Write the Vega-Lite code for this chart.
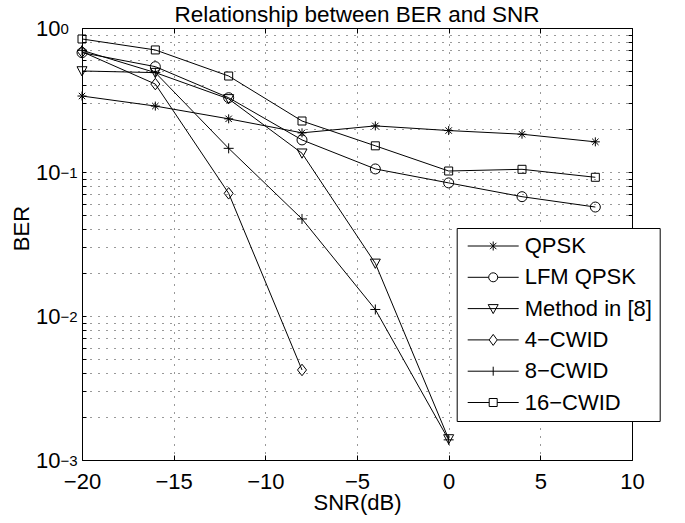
{
  "$schema": "https://vega.github.io/schema/vega-lite/v6.json",
  "autosize": {"type": "none"},
  "padding": {"left": 82, "top": 28, "right": 53, "bottom": 63},
  "width": 550,
  "height": 432,
  "background": "white",
  "config": {
    "font": "Liberation Sans",
    "view": {"stroke": null},
    "axis": {"domainColor": "black", "tickColor": "black", "labelColor": "black", "titleColor": "black", "titleFontWeight": "normal", "domainWidth": 1, "tickWidth": 1}
  },
  "title": {"text": "Relationship between BER and SNR", "fontSize": 22.5, "fontWeight": "normal", "color": "black", "offset": -9, "anchor": "middle"},
  "data": {"values": [
    {"series": "QPSK", "snr": -20, "ber": 0.337},
    {"series": "QPSK", "snr": -16, "ber": 0.287},
    {"series": "QPSK", "snr": -12, "ber": 0.234},
    {"series": "QPSK", "snr": -8, "ber": 0.187},
    {"series": "QPSK", "snr": -4, "ber": 0.209},
    {"series": "QPSK", "snr": 0, "ber": 0.194},
    {"series": "QPSK", "snr": 4, "ber": 0.183},
    {"series": "QPSK", "snr": 8, "ber": 0.162},
    {"series": "LFM QPSK", "snr": -20, "ber": 0.674},
    {"series": "LFM QPSK", "snr": -16, "ber": 0.539},
    {"series": "LFM QPSK", "snr": -12, "ber": 0.328},
    {"series": "LFM QPSK", "snr": -8, "ber": 0.167},
    {"series": "LFM QPSK", "snr": -4, "ber": 0.105},
    {"series": "LFM QPSK", "snr": 0, "ber": 0.084},
    {"series": "LFM QPSK", "snr": 4, "ber": 0.0674},
    {"series": "LFM QPSK", "snr": 8, "ber": 0.0571},
    {"series": "Method in [8]", "snr": -20, "ber": 0.503},
    {"series": "Method in [8]", "snr": -16, "ber": 0.49},
    {"series": "Method in [8]", "snr": -12, "ber": 0.322},
    {"series": "Method in [8]", "snr": -8, "ber": 0.135},
    {"series": "Method in [8]", "snr": -4, "ber": 0.0232},
    {"series": "Method in [8]", "snr": 0, "ber": 0.0014},
    {"series": "4−CWID", "snr": -20, "ber": 0.685},
    {"series": "4−CWID", "snr": -16, "ber": 0.408},
    {"series": "4−CWID", "snr": -12, "ber": 0.0711},
    {"series": "4−CWID", "snr": -8, "ber": 0.00422},
    {"series": "8−CWID", "snr": -20, "ber": 0.70},
    {"series": "8−CWID", "snr": -16, "ber": 0.49},
    {"series": "8−CWID", "snr": -12, "ber": 0.146},
    {"series": "8−CWID", "snr": -8, "ber": 0.0472},
    {"series": "8−CWID", "snr": -4, "ber": 0.0111},
    {"series": "8−CWID", "snr": 0, "ber": 0.00138},
    {"series": "16−CWID", "snr": -20, "ber": 0.839},
    {"series": "16−CWID", "snr": -16, "ber": 0.704},
    {"series": "16−CWID", "snr": -12, "ber": 0.464},
    {"series": "16−CWID", "snr": -8, "ber": 0.226},
    {"series": "16−CWID", "snr": -4, "ber": 0.152},
    {"series": "16−CWID", "snr": 0, "ber": 0.1016},
    {"series": "16−CWID", "snr": 4, "ber": 0.1044},
    {"series": "16−CWID", "snr": 8, "ber": 0.0919}
  ]},
  "resolve": {"axis": {"x": "independent", "y": "independent"}, "scale": {"shape": "independent"}, "legend": {"shape": "independent"}},
  "layer": [
    {
      "mark": {"type": "line", "color": "black", "strokeWidth": 1},
      "encoding": {
        "x": {"field": "snr", "type": "quantitative", "scale": {"domain": [-20, 10], "nice": false, "zero": false},
          "axis": {"orient": "bottom", "title": "SNR(dB)", "titleFontSize": 22, "titlePadding": 0, "values": [-20, -15, -10, -5, 0, 5, 10], "labelFontSize": 22, "labelPadding": 16, "tickSize": -5, "grid": true, "gridDash": [1, 7], "gridColor": "#333", "gridWidth": 1, "labelFlush": false}},
        "y": {"field": "ber", "type": "quantitative", "scale": {"type": "log", "domain": [0.001, 1], "nice": false},
          "axis": {"orient": "left", "title": "BER", "titleFontSize": 22, "titlePadding": 2, "titleY": 200,
            "values": [0.001, 0.002, 0.003, 0.004, 0.005, 0.006, 0.007, 0.008, 0.009, 0.01, 0.02, 0.03, 0.04, 0.05, 0.06, 0.07, 0.08, 0.09, 0.1, 0.2, 0.3, 0.4, 0.5, 0.6, 0.7, 0.8, 0.9, 1],
            "labelExpr": "abs(log(datum.value)/LN10 - round(log(datum.value)/LN10)) < 0.000001 ? '10' : ''",
            "labelFontSize": 22, "labelPadding": 26, "labelDy": 3, "tickSize": -4, "grid": true, "gridDash": [1, 7], "gridColor": "#333", "gridWidth": 1, "labelFlush": false, "labelOverlap": false}},
        "detail": {"field": "series", "type": "nominal"}
      }
    },
    {
      "mark": {"type": "point", "filled": false, "color": "black", "strokeWidth": 1, "size": 100, "opacity": 1},
      "encoding": {
        "x": {"field": "snr", "type": "quantitative", "axis": {"orient": "top", "title": null, "values": [-20, -15, -10, -5, 0, 5, 10], "labels": false, "tickSize": -5, "grid": false}},
        "y": {"field": "ber", "type": "quantitative", "axis": {"orient": "right", "title": null,
            "values": [0.001, 0.002, 0.003, 0.004, 0.005, 0.006, 0.007, 0.008, 0.009, 0.01, 0.02, 0.03, 0.04, 0.05, 0.06, 0.07, 0.08, 0.09, 0.1, 0.2, 0.3, 0.4, 0.5, 0.6, 0.7, 0.8, 0.9, 1],
            "labels": false, "tickSize": -4, "grid": false}},
        "shape": {"field": "series", "type": "nominal", "legend": null,
          "scale": {"domain": ["QPSK", "LFM QPSK", "Method in [8]", "4−CWID", "8−CWID", "16−CWID"],
            "range": [
              "M-0.9,0H0.9M0,-0.9V0.9M-0.64,-0.64L0.64,0.64M-0.64,0.64L0.64,-0.64",
              "M-1,0A1,1 0 1 1 1,0A1,1 0 1 1 -1,0Z",
              "M-1,-0.85L1,-0.85L0,1Z",
              "M0,-1.15L0.9,0L0,1.15L-0.9,0Z",
              "M-1,0H1M0,-1V1",
              "M-0.8,-0.8H0.8V0.8H-0.8Z"
            ]}}
      }
    },
    {
      "mark": {"type": "point", "opacity": 0, "filled": false, "color": "black", "strokeWidth": 1},
      "encoding": {
        "x": {"field": "snr", "type": "quantitative", "axis": null},
        "y": {"field": "ber", "type": "quantitative", "axis": {"orient": "left", "title": null, "values": [0.001, 0.01, 0.1, 1],
          "labelExpr": "datum.value < 0.005 ? '−3' : datum.value < 0.05 ? '−2' : datum.value < 0.5 ? '−1' : '0'",
          "labelFontSize": 15, "labelAlign": "left", "labelPadding": 22, "labelDy": -10, "ticks": false, "domain": false, "grid": false, "labelFlush": false}},
        "shape": {"field": "series", "type": "nominal",
          "scale": {"domain": ["QPSK", "LFM QPSK", "Method in [8]", "4−CWID", "8−CWID", "16−CWID"],
            "range": [
              "M-0.7,0H4.4M1.85,-0.45V0.45M1.53,-0.32L2.17,0.32M1.53,0.32L2.17,-0.32",
              "M-0.7,0H1.4M2.3,0H4.4M1.4,0A0.45,0.45 0 1 1 2.3,0A0.45,0.45 0 1 1 1.4,0Z",
              "M-0.7,0H4.4M1.35,-0.4L2.35,-0.4L1.85,0.5Z",
              "M-0.7,0H1.45M2.25,0H4.4M1.85,-0.55L2.25,0L1.85,0.55L1.45,0Z",
              "M-0.7,0H4.4M1.85,-0.45V0.45",
              "M-0.7,0H1.45M2.25,0H4.4M1.45,-0.4H2.25V0.4H1.45Z"
            ]},
          "legend": {
            "orient": "none", "legendX": 374.7, "legendY": 200, "title": null,
            "strokeColor": "black", "fillColor": "white", "padding": 7,
            "labelFontSize": 22, "labelColor": "black", "labelOffset": 39,
            "symbolSize": 400, "symbolStrokeWidth": 1, "symbolStrokeColor": "black", "symbolOpacity": 1, "rowPadding": 9.3
          }}
      }
    }
  ]
}
